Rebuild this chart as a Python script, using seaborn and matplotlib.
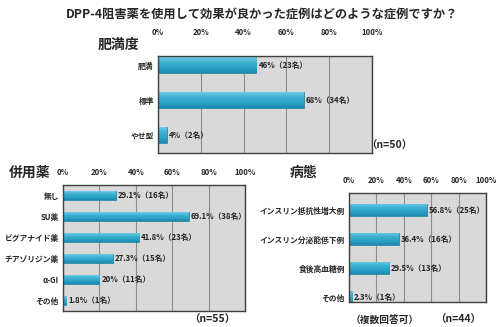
import matplotlib
matplotlib.use("Agg")
import matplotlib.pyplot as plt
from matplotlib.colors import LinearSegmentedColormap
import seaborn as sns
import pandas as pd
import numpy as np

sns.set_theme(style="white")
plt.rcParams['font.family'] = ['Noto Sans CJK JP', 'DejaVu Sans']

title = "DPP-4阻害薬を使用して効果が良かった症例はどのような症例ですか？"

obesity_cats = ["肥満", "標準", "やせ型"]
obesity_pct = [46, 68, 4]
obesity_n = [23, 34, 2]

combo_cats = ["無し", "SU薬", "ビグアナイド薬", "チアゾリジン薬", "α-GI", "その他"]
combo_pct = [29.1, 69.1, 41.8, 27.3, 20, 1.8]
combo_n = [16, 38, 23, 15, 11, 1]

patho_cats = ["インスリン抵抗性増大例", "インスリン分泌能低下例", "食後高血糖例", "その他"]
patho_pct = [56.8, 36.4, 29.5, 2.3]
patho_n = [25, 16, 13, 1]

xticks = [0, 20, 40, 60, 80, 100]

W, H = 500, 327
fig = plt.figure(figsize=(W / 100, H / 100), dpi=100)

grad_cmap = LinearSegmentedColormap.from_list(
    "bar", ["#6fcbe4", "#3fb1d3", "#2ba2c7", "#1d89ad"])
grad = np.linspace(0, 1, 64).reshape(-1, 1)


def px_axes(x0, y0, x1, y1):
    return fig.add_axes([x0 / W, 1 - y1 / H, (x1 - x0) / W, (y1 - y0) / H])


def panel(ax, cats, pct, n, ylim, bw, pad, fs=5.6):
    df = pd.DataFrame({"cat": cats, "pct": pct})
    sns.barplot(data=df, x="pct", y="cat", orient="h", ax=ax, color="#2fa6ca",
                saturation=1, width=bw, edgecolor="#1c7d9c", linewidth=0.5)
    ax.set_facecolor("#d9d9d9")
    ax.set_xlim(0, 100)
    ax.set_ylim(*ylim)
    ax.set_xticks(xticks)
    ax.set_xticklabels([f"{t}%" for t in xticks], fontsize=fs, fontweight="bold")
    ax.xaxis.tick_top()
    ax.tick_params(axis="x", length=0, pad=pad)
    ax.tick_params(axis="y", length=0, pad=3)
    ax.set_yticks(range(len(cats)))
    ax.set_yticklabels(cats, fontsize=fs, fontweight="bold")
    ax.grid(axis="x", color="#8c8c8c", linewidth=0.8)
    ax.set_axisbelow(True)
    ax.set_xlabel("")
    ax.set_ylabel("")
    for s in ax.spines.values():
        s.set_color("#404040")
        s.set_linewidth(1.0)
    # gradient fill inside each bar
    for p in list(ax.patches):
        x0, y0 = p.get_x(), p.get_y()
        w, h = p.get_width(), p.get_height()
        im = ax.imshow(grad, cmap=grad_cmap, aspect="auto",
                       extent=(x0, x0 + w, y0 + h, y0), origin="upper",
                       zorder=p.get_zorder() + 0.1, interpolation="bilinear")
        im.set_clip_path(p)
    ax.set_xlim(0, 100)
    ax.set_ylim(*ylim)
    for i, (v, c) in enumerate(zip(pct, n)):
        ax.text(v + 1.2, i, f"{v:g}%（{c}名）", va="center", ha="left",
                fontsize=fs, fontweight="bold", color="#222222")


ax1 = px_axes(158, 56, 372, 153)
panel(ax1, obesity_cats, obesity_pct, obesity_n, (2.51, -0.26), 0.45, 13.5)

ax2 = px_axes(63, 185, 245, 311)
panel(ax2, combo_cats, combo_pct, combo_n, (5.5, -0.5), 0.4, 5.5)

ax3 = px_axes(349, 193, 486, 302)
panel(ax3, patho_cats, patho_pct, patho_n, (3.17, -0.59), 0.42, 5.5)

fig.text(262 / W, 1 - 14 / H, title, ha="center", va="center",
         fontsize=8.8, fontweight="bold")
fig.text(118 / W, 1 - 45 / H, "肥満度", ha="center", va="center",
         fontsize=10, fontweight="bold")
fig.text(30 / W, 1 - 173 / H, "併用薬", ha="center", va="center",
         fontsize=10, fontweight="bold")
fig.text(304 / W, 1 - 173 / H, "病態", ha="center", va="center",
         fontsize=10, fontweight="bold")
fig.text(389 / W, 1 - 146 / H, "（n=50）", ha="center", va="center",
         fontsize=7.5, fontweight="bold")
fig.text(212 / W, 1 - 320 / H, "（n=55）", ha="center", va="center",
         fontsize=7.5, fontweight="bold")
fig.text(385 / W, 1 - 320 / H, "（複数回答可）", ha="center", va="center",
         fontsize=7, fontweight="bold")
fig.text(458 / W, 1 - 320 / H, "（n=44）", ha="center", va="center",
         fontsize=7.5, fontweight="bold")

fig.savefig("out.png", dpi=100)
